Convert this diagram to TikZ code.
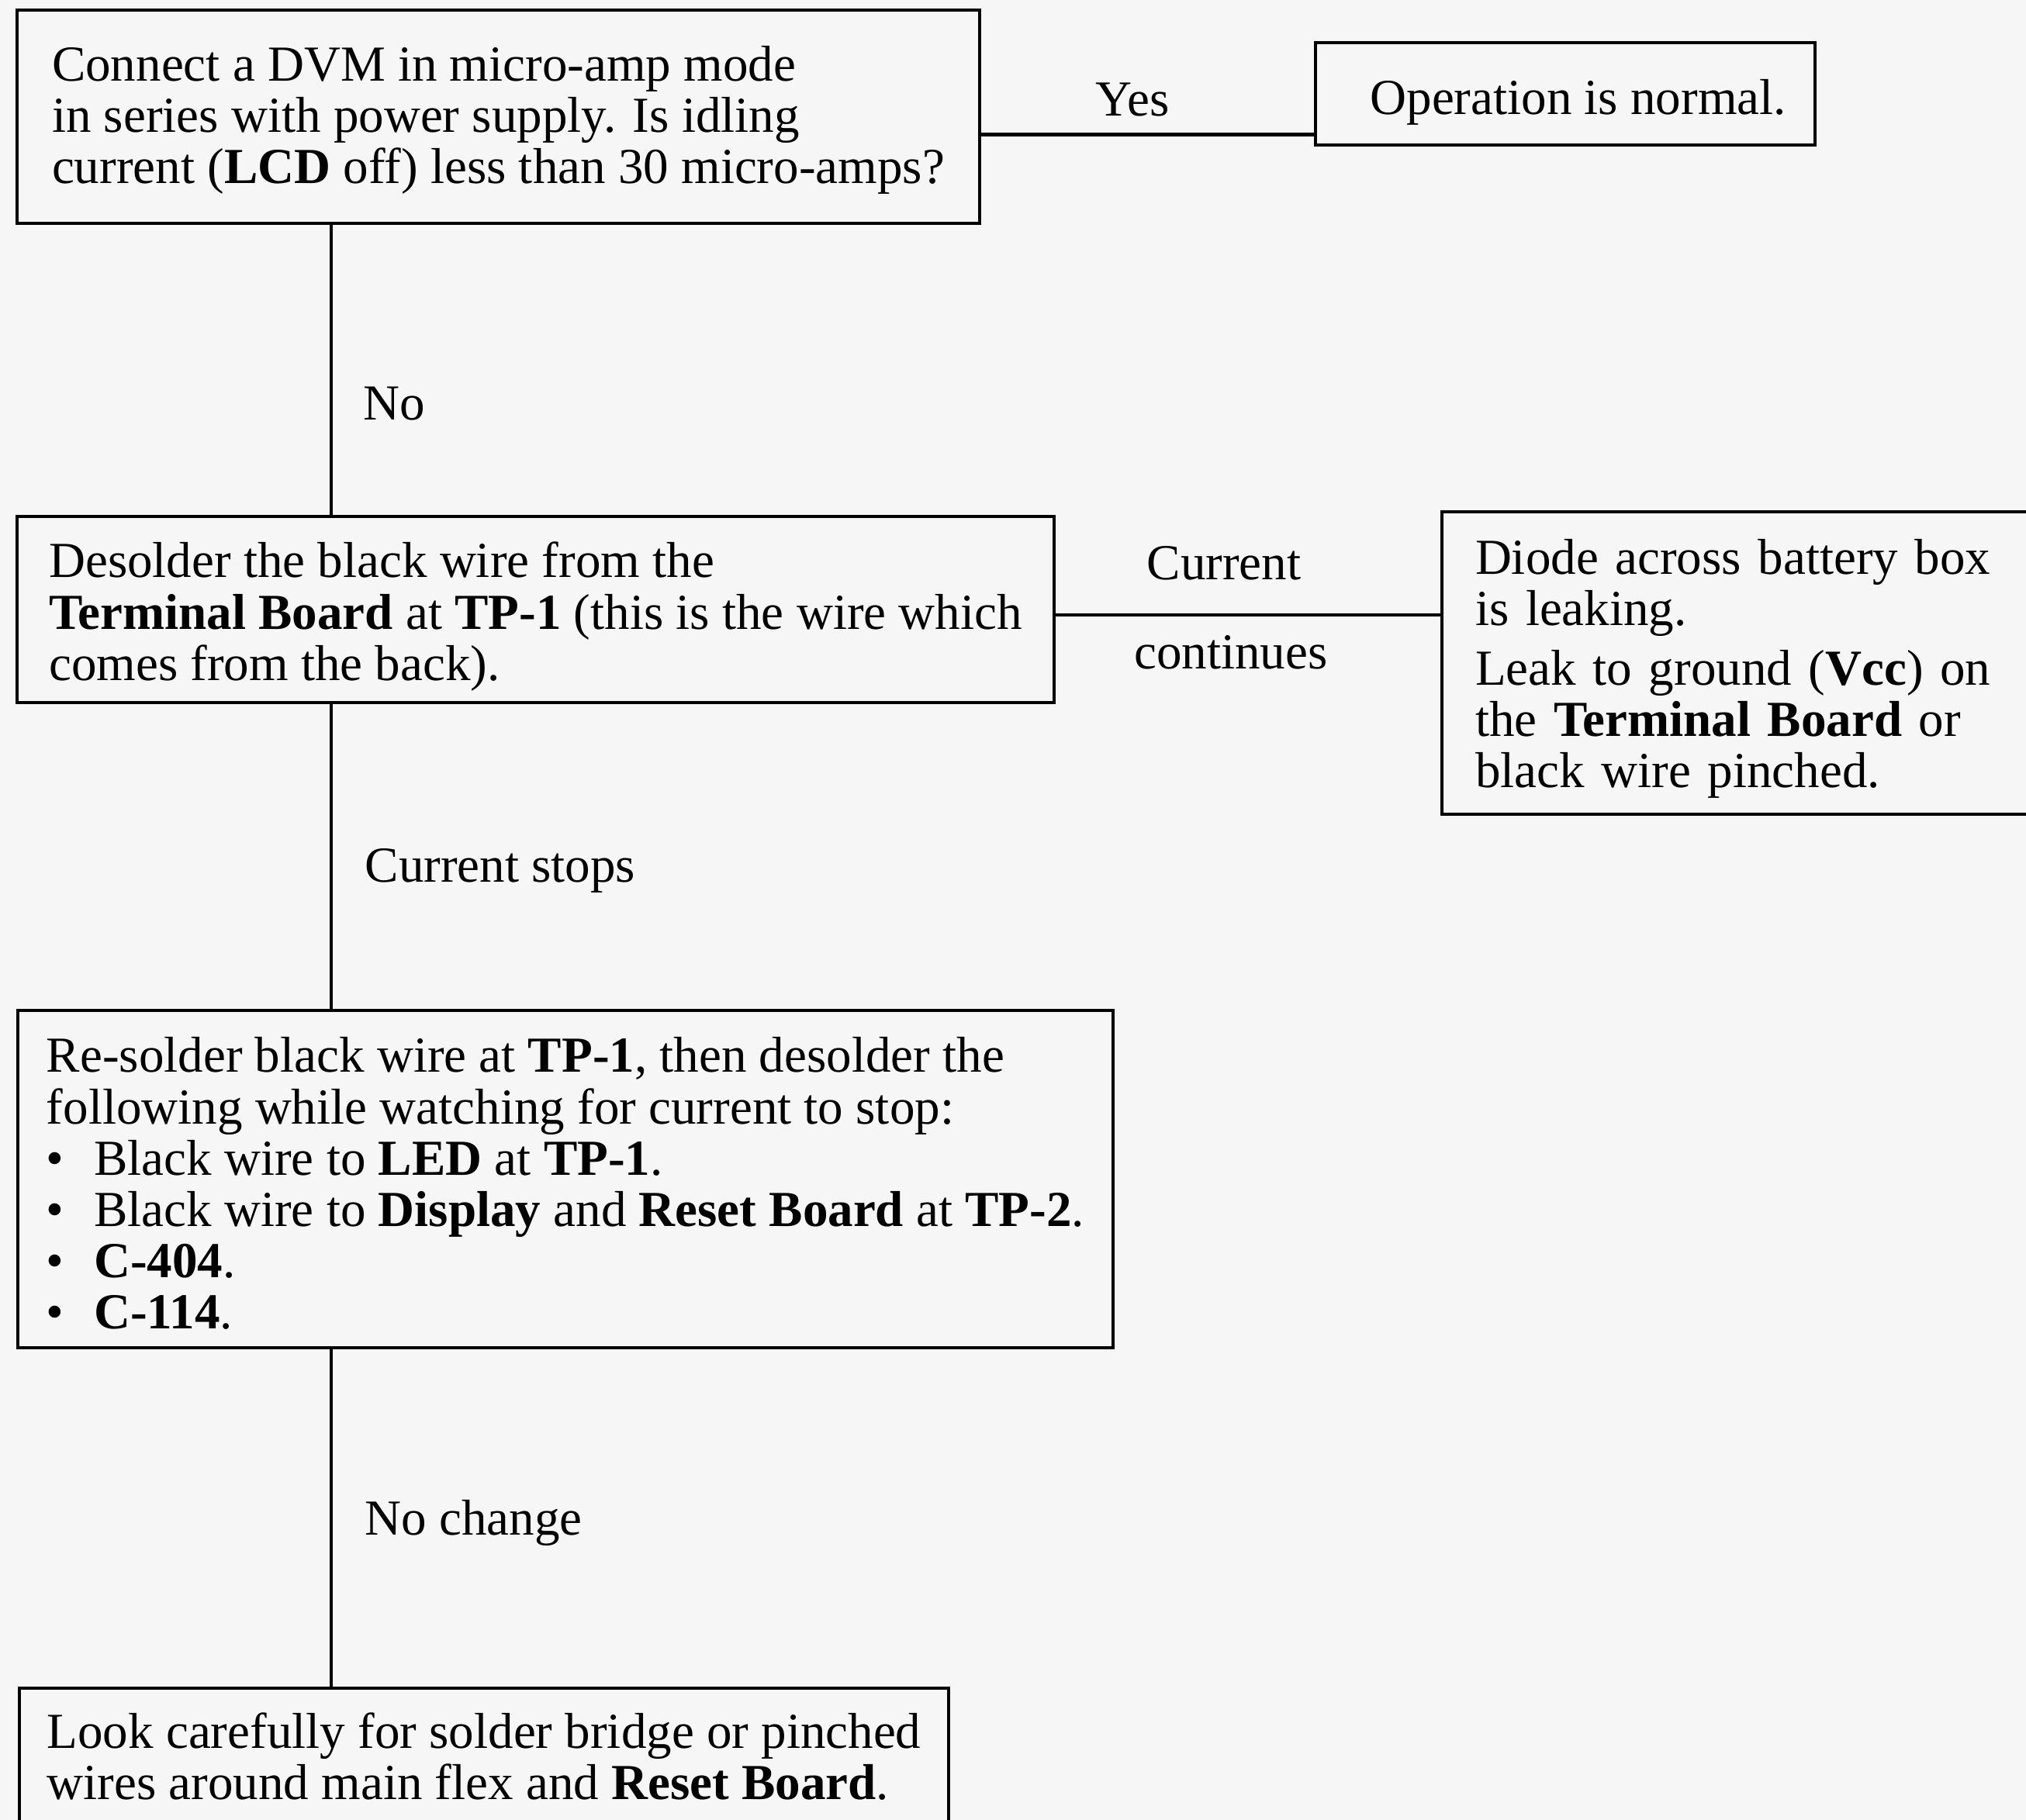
\documentclass[tikz,border=0pt]{standalone}
\usepackage{fontspec}
\setmainfont{Liberation Serif}
\definecolor{paper}{RGB}{246,246,246}
\newcommand\lift[1]{\rule{0pt}{#1}}
\newcommand\dotitem{\textbullet\hspace{11pt}}

\begin{document}
\begin{tikzpicture}
\tikzstyle{every node}+=[font=\fontsize{18.5}{18.8}\selectfont]
\tikzstyle{chartbox}=[draw=black, line width=1.2pt, inner xsep=1mm, inner ysep=1mm, align=left]
\tikzstyle{wire}=[black, line width=1.2pt]
\tikzstyle{lbl}=[inner sep=0pt, anchor=base]
\useasboundingbox (0,0) rectangle (26.12,23.47);
\clip (0,0) rectangle (26.12,23.47);
\fill [paper] (0,0) rectangle (26.12,23.47);
\node [chartbox, minimum width=12.41cm, minimum height=2.75cm] (idle) at (6.425,21.965) {\lift{15.4pt}Connect a DVM in micro-amp mode\\in series with power supply. Is idling\\current (\textbf{LCD} off) less than 30 micro-amps?};
\node [chartbox, minimum width=6.44cm, minimum height=1.32cm] (normal) at (20.18,22.26) {\lift{19.2pt}\hspace*{9.5pt}Operation is normal.};
\node [chartbox, minimum width=13.37cm, minimum height=2.40cm] (desolder) at (6.905,15.61) {\lift{18.2pt}Desolder the black wire from the\\\textbf{Terminal Board} at \textbf{TP-1} (this is the wire which\\comes from the back).};
\node [chartbox, inner xsep=4.3mm, text width=7.0cm, minimum height=3.90cm] (diode) at (22.52,14.92) {\lift{17.2pt}Diode across battery box\\is leaking.\\[3pt]Leak to ground (\textbf{Vcc}) on\\the \textbf{Terminal Board} or\\black wire pinched.};
\node [chartbox, minimum width=14.12cm, minimum height=4.35cm] (resolder) at (7.29,8.265) {\lift{16pt}Re-solder black wire at \textbf{TP-1}, then desolder the\\following while watching for current to stop:\\\dotitem Black wire to \textbf{LED} at \textbf{TP-1}.\\\dotitem Black wire to \textbf{Display} and \textbf{Reset Board} at \textbf{TP-2}.\\\dotitem\textbf{C-404}.\\\dotitem\textbf{C-114}.};
\node [chartbox, minimum width=11.98cm, minimum height=1.76cm] (look) at (6.24,0.82) {Look carefully for solder bridge or pinched\\wires around main flex and \textbf{Reset Board}.};
\coordinate (trunk) at (4.27,0);
\draw [wire] (idle.south -| trunk) -- (desolder.north -| trunk);
\draw [wire] (desolder.south -| trunk) -- (resolder.north -| trunk);
\draw [wire] (resolder.south -| trunk) -- (look.north -| trunk);
\draw [wire] ([yshift=-2.3mm]idle.east) -- ([yshift=-2.3mm]idle.east -| normal.west);
\draw [wire] ([yshift=-0.7mm]desolder.east) -- ([yshift=-0.7mm]desolder.east -| diode.west);
\node [lbl] (yes) at (14.60,21.97) {Yes};
\node [lbl, anchor=base west] (no) at (4.68,18.05) {No};
\node [lbl] (cur) at (15.78,15.99) {Current};
\node [lbl] (cont) at (15.87,14.84) {continues};
\node [lbl, anchor=base west] (stops) at (4.70,12.09) {Current stops};
\node [lbl, anchor=base west] (nochg) at (4.70,3.67) {No change};
\end{tikzpicture}
\end{document}
